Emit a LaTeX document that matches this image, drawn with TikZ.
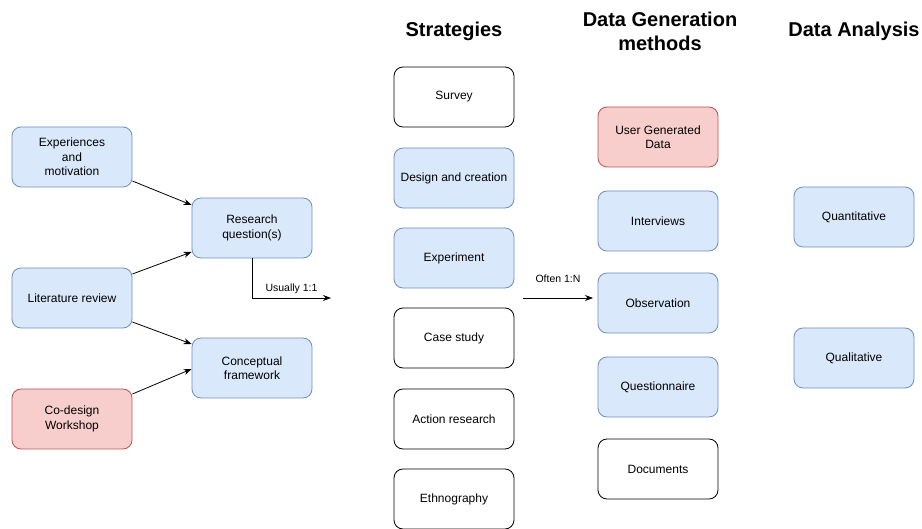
\documentclass[tikz,border=0pt]{standalone}
\usepackage{fontspec}
\setmainfont{Liberation Sans}
\usetikzlibrary{arrows.meta}
\definecolor{bluefill}{HTML}{DAE8FC}
\definecolor{bluedraw}{HTML}{6C8EBF}
\definecolor{redfill}{HTML}{F8CECC}
\definecolor{reddraw}{HTML}{B85450}
\tikzset{
  box/.style={rectangle, rounded corners=9pt, minimum width=120pt, minimum height=60pt,
    align=center, font=\fontsize{12}{14.5}\selectfont, inner sep=2pt, line width=0.8pt},
  bluebox/.style={box, draw=bluedraw, fill=bluefill},
  redbox/.style={box, draw=reddraw, fill=redfill},
  plainbox/.style={box, draw=black, fill=white},
  title/.style={font=\fontsize{20}{24}\selectfont\bfseries, align=center},
  link/.style={-{Stealth[length=8pt,width=6pt]}, line width=0.8pt},
  tag/.style={font=\fontsize{10.5}{12}\selectfont}
}
\begin{document}
\begin{tikzpicture}[x=1pt, y=-1pt]
\useasboundingbox (0,0) rectangle (922,529);

% column headings
\node[title] (hStrat) at (454,31) {Strategies};
\node[title] (hGen) at (660,31) {Data Generation\\methods};
\node[title] (hAna) at (854,31) {Data Analysis};

% inputs
\node[bluebox] (exp) at (72,157) {Experiences\\and\\motivation};
\node[bluebox] (lit) at (72,298) {Literature review};
\node[redbox] (codes) at (72,419) {Co-design\\Workshop};
\node[bluebox] (rq) at (252,228) {Research\\question(s)};
\node[bluebox] (cf) at (252,368) {Conceptual\\framework};

% strategies
\node[plainbox] (survey) at (454,97) {Survey};
\node[bluebox] (design) at (454,178) {Design and creation};
\node[bluebox] (experiment) at (454,258) {Experiment};
\node[plainbox] (case) at (454,338) {Case study};
\node[plainbox] (action) at (454,419) {Action research};
\node[plainbox] (ethno) at (454,499) {Ethnography};

% data generation methods
\node[redbox] (ugd) at (658,137) {User Generated\\Data};
\node[bluebox] (interviews) at (658,221) {Interviews};
\node[bluebox] (observation) at (658,303) {Observation};
\node[bluebox] (quest) at (658,387) {Questionnaire};
\node[plainbox] (docs) at (658,469) {Documents};

% data analysis
\node[bluebox] (quant) at (854,217) {Quantitative};
\node[bluebox] (qual) at (854,358) {Qualitative};

% connectors
\draw[link] ([yshift=-24pt]exp.east) -- ([yshift=23pt]rq.west);
\draw[link] ([yshift=24pt]lit.east) -- ([yshift=-24pt]rq.west);
\draw[link] ([yshift=-24pt]lit.east) -- ([yshift=24pt]cf.west);
\draw[link] ([yshift=25pt]codes.east) -- ([yshift=-1pt]cf.west);

\coordinate (rqEnd) at (331,298);
\draw[link] (rq.south) |- (rqEnd) node[tag, pos=0.75, above=1pt] {Usually 1:1};

\coordinate (genStart) at (523,298);
\coordinate (genEnd) at (593,298);
\draw[link] (genStart) -- (genEnd) node[tag, midway, above=12pt] {Often 1:N};
\end{tikzpicture}
\end{document}
